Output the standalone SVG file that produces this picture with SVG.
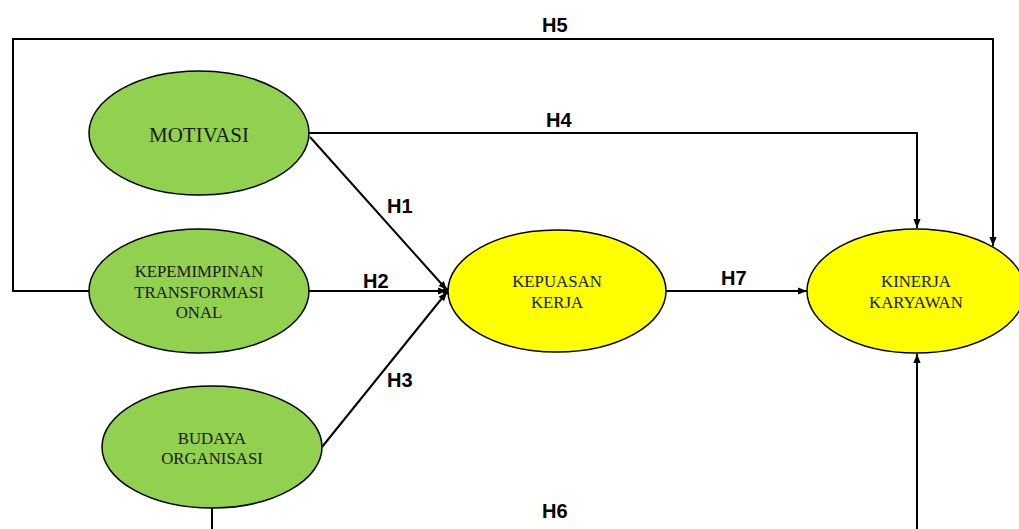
<svg xmlns="http://www.w3.org/2000/svg" width="1019" height="529" viewBox="0 0 1019 529">
<style>
.lbl{font-family:"Liberation Sans",Arial,sans-serif;font-weight:bold;font-size:20px;fill:#000}
.nt{font-family:"Liberation Serif","Times New Roman",serif;fill:#1a1a1a;text-anchor:middle}
.g{fill:#92D050;stroke:#000;stroke-width:1.5}
.y{fill:#FFFF00;stroke:#000;stroke-width:1.5}
.c{fill:none;stroke:#000;stroke-width:2}
</style>
<defs>
<marker id="ah2" viewBox="0 0 10 10" refX="10" refY="5" markerWidth="9" markerHeight="9" orient="auto" markerUnits="userSpaceOnUse">
<path d="M0,1 L10,5 L0,9 z" fill="#000"/>
</marker>
</defs>
<rect width="1019" height="529" fill="#fff"/>
<g id="connectors">
<path class="c" d="M89,291 H13 V39 H993 V246" marker-end="url(#ah2)"/>
<path class="c" d="M308,133 H917 V228" marker-end="url(#ah2)"/>
<path class="c" d="M310,137 L447,290" marker-end="url(#ah2)"/>
<path class="c" d="M308,291 H447" marker-end="url(#ah2)"/>
<path class="c" d="M322,447 L447,292" marker-end="url(#ah2)"/>
<path class="c" d="M666,291 H807" marker-end="url(#ah2)"/>
<path class="c" d="M212,508 V545 H917 V354" marker-end="url(#ah2)"/>
<circle cx="446" cy="291" r="3.5" fill="#000"/>
<text class="lbl" x="542" y="32">H5</text>
<text class="lbl" x="546" y="127">H4</text>
<text class="lbl" x="387" y="213">H1</text>
<text class="lbl" x="363" y="288">H2</text>
<text class="lbl" x="387" y="387">H3</text>
<text class="lbl" x="721" y="285">H7</text>
<text class="lbl" x="542" y="518">H6</text>
</g>
<g id="motivasi">
<ellipse class="g" cx="199" cy="133" rx="110" ry="62"/>
<text class="nt" x="199" y="142" font-size="21">MOTIVASI</text>
</g>
<g id="kepemimpinan">
<ellipse class="g" cx="199" cy="291" rx="110" ry="62"/>
<text class="nt" x="199" y="277" font-size="16.8">KEPEMIMPINAN</text>
<text class="nt" x="199" y="297.5" font-size="16.8">TRANSFORMASI</text>
<text class="nt" x="199" y="318" font-size="16.8">ONAL</text>
</g>
<g id="budaya">
<ellipse class="g" cx="212" cy="447" rx="110" ry="61"/>
<text class="nt" x="212" y="444" font-size="16.8">BUDAYA</text>
<text class="nt" x="212" y="464" font-size="16.8">ORGANISASI</text>
</g>
<g id="kepuasan">
<ellipse class="y" cx="557" cy="291" rx="109" ry="61"/>
<text class="nt" x="557" y="287" font-size="16.8">KEPUASAN</text>
<text class="nt" x="557" y="308" font-size="16.8">KERJA</text>
</g>
<g id="kinerja">
<ellipse class="y" cx="916" cy="291" rx="109" ry="62"/>
<text class="nt" x="916" y="287" font-size="16.8">KINERJA</text>
<text class="nt" x="916" y="308" font-size="16.8">KARYAWAN</text>
</g>
</svg>
